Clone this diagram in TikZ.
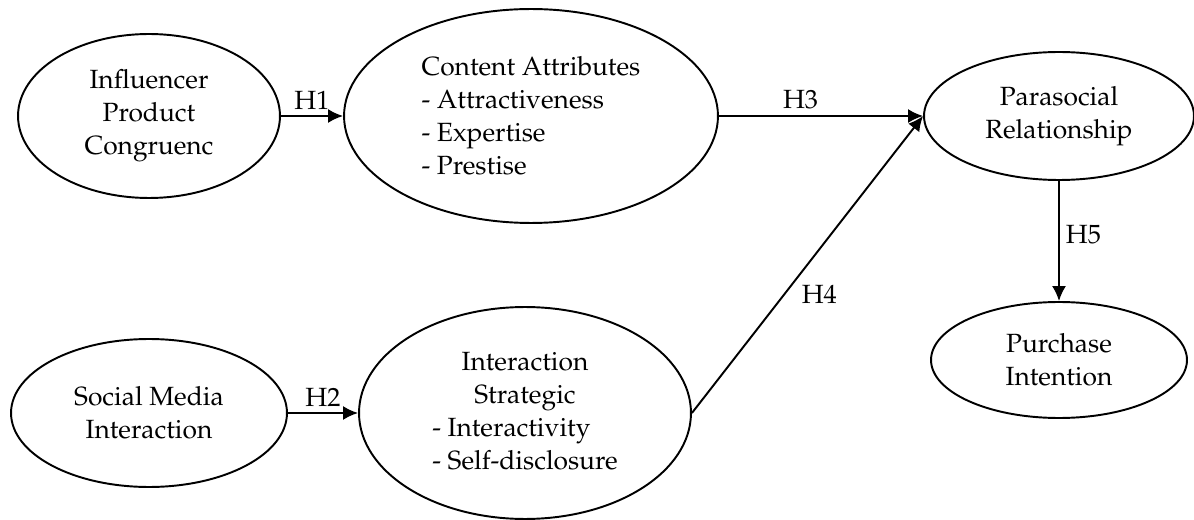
\documentclass[tikz,border=0pt]{standalone}
\usepackage[T1]{fontenc}
\usepackage{mathpazo}
\usetikzlibrary{arrows.meta,shapes.geometric}

\begin{document}
\begin{tikzpicture}[x=0.02cm,y=-0.02cm,
  construct/.style={draw,ellipse,line width=1.1pt,inner sep=0pt,
    font=\fontsize{15}{18.8}\selectfont,align=center},
  path/.style={line width=1.1pt,-{Latex[length=0.3cm,width=0.28cm]}},
  hyp/.style={font=\fontsize{15}{18.8}\selectfont}]

\useasboundingbox (0,0) rectangle (1194,520);

% left column:
\node[construct,minimum width=5.24cm,minimum height=3.28cm] (ipc) at (149,116)
  {Influencer\\Product\\Congruenc};
\node[construct,minimum width=5.52cm,minimum height=2.96cm] (smi) at (149,413)
  {Social Media\\Interaction};

% middle column:
\node[construct,minimum width=7.48cm,minimum height=4.28cm,align=left] (ca) at (531,116)
  {Content Attributes\\- Attractiveness\\- Expertise\\- Prestise};
\node[construct,minimum width=6.64cm,minimum height=4.24cm] (is) at (525,413)
  {\begin{tabular}{@{}l@{}}
   \multicolumn{1}{@{}c@{}}{Interaction}\\
   \multicolumn{1}{@{}c@{}}{Strategic}\\
   - Interactivity\\
   - Self-disclosure
   \end{tabular}};

% right column:
\node[construct,minimum width=5.4cm,minimum height=2.56cm] (pr) at (1059,116)
  {Parasocial\\Relationship};
\node[construct,minimum width=5.12cm,minimum height=2.32cm] (pi) at (1059,360)
  {Purchase\\Intention};

% paths:
\draw[path] (ipc.east) -- node[hyp,above] {H1} (ca.west);
\draw[path] (smi.east) -- node[hyp,above] {H2} (is.west);
\draw[path] (ca.east) -- node[hyp,above,pos=0.4] {H3} (pr.west);
\draw[path] (is.east) -- node[hyp,right=6pt,pos=0.4] {H4} (pr.west);
\draw[path] (pr.south) -- node[hyp,right,pos=0.45] {H5} (pi.north);

\end{tikzpicture}
\end{document}
